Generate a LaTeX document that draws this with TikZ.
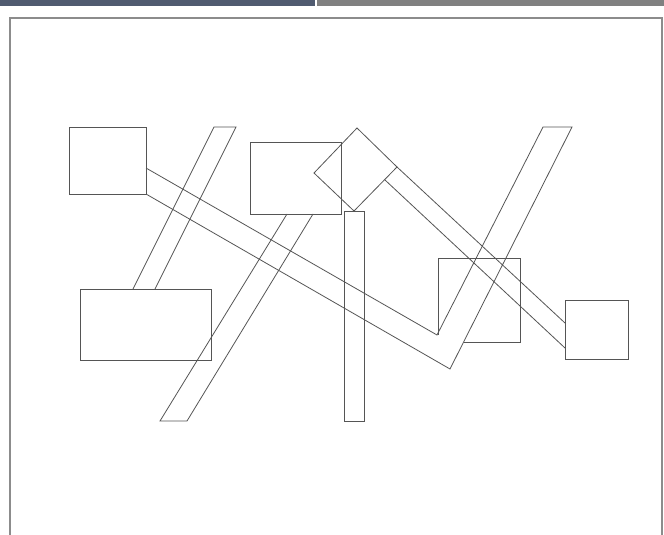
\documentclass[tikz,border=0pt]{standalone}
\definecolor{barblue}{HTML}{505B70}
\definecolor{bargray}{HTML}{808080}
\definecolor{framegray}{HTML}{8C8C8C}
\definecolor{linegray}{HTML}{555555}
\begin{document}
\begin{tikzpicture}[x=1pt,y=-1pt,
  shp/.style={draw=linegray, line width=0.8pt, line join=miter}]
\useasboundingbox (0,0) rectangle (664,535);
\fill[white] (0,0) rectangle (664,535);
% top bars
\fill[barblue] (0,0) rectangle (315,6);
\fill[bargray] (317,0) rectangle (664,6);
% frame
\draw[framegray, line width=2pt] (10,540) -- (10,18) -- (662,18) -- (662,540);
% key points
\coordinate (vtop) at (437,335);
\coordinate (vbot) at (450,369);
% box A
\draw[shp] (69,127) rectangle (146,194);
% thin slanted band to box B
\draw[shp] (133,289) -- (214,127) -- (236,127) -- (155,289);
% box B
\draw[shp] (80,289) rectangle (211,360);
% box C
\draw[shp] (250,142) rectangle (341,214);
% long slanted band below C
\draw[shp] (287,214) -- (160,421) -- (187,421) -- (313,214);
% vertical bar
\draw[shp] (344,211) rectangle (364,421);
% diamond
\draw[shp] (357,128) -- (397,167) -- (354,211) -- (314,173) -- cycle;
% band from diamond to box F
\draw[shp] (397,167) -- (565,323);
\draw[shp] (385,180) -- (565,348);
% box F
\draw[shp] (565,300) rectangle (628,359);
% box E (partly hidden)
\draw[shp] (464,342) -- (520,342) -- (520,258) -- (438,258) -- (438,335);
% V band
\draw[shp] (146,168) -- (vtop) -- (543,127) -- (572,127) -- (vbot) -- (146,194);
\end{tikzpicture}
\end{document}
